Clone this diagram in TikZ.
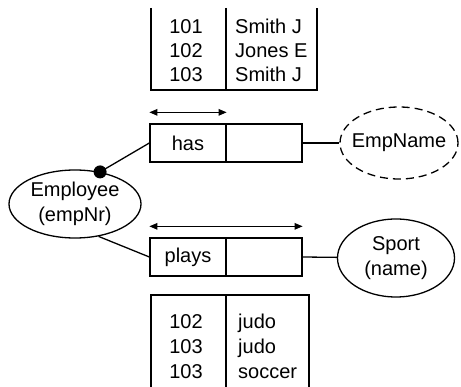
\documentclass[tikz,border=0pt]{standalone}
\usepackage{fontspec}
\setmainfont{Liberation Sans}
\usetikzlibrary{arrows.meta,shapes.geometric}
\begin{document}
\begin{tikzpicture}[x=1pt,y=-1pt,
  every node/.style={font=\fontsize{20}{25}\selectfont},
  line/.style={line width=1.3pt},
  cell/.style={draw,line width=1.3pt,minimum width=76pt,minimum height=38pt,inner sep=0pt},
  ent/.style={draw,ellipse,line width=1.3pt,inner sep=0pt},
  lbl/.style={inner sep=0pt,align=center},
  num/.style={anchor=base,inner sep=0pt},
  nm/.style={anchor=base west,inner sep=0pt},
  dotnode/.style={circle,fill,minimum size=13pt,inner sep=0pt},
  span/.style={line width=1.2pt,{Triangle[length=8pt,width=6.5pt]}-{Triangle[length=8pt,width=6.5pt]}}
]
\useasboundingbox (0,0) rectangle (461,387);
% top table
\draw[line] (151,8) -- (151,90) -- (317,90) -- (317,8);
\draw[line] (226,8) -- (226,90);
\node[num] (t1a) at (186,34) {101}; \node[nm] (t1b) at (235,34) {Smith J};
\node[num] (t2a) at (186,58) {102}; \node[nm] (t2b) at (235,58) {Jones E};
\node[num] (t3a) at (186,82) {103}; \node[nm] (t3b) at (235,82) {Smith J};
% bottom table
\draw[line] (151,389) -- (151,295) -- (309,295) -- (309,389);
\draw[line] (226,295) -- (226,389);
\node[num] (b1a) at (186,329) {102}; \node[nm] (b1b) at (238,329) {judo};
\node[num] (b2a) at (186,354) {103}; \node[nm] (b2b) at (238,354) {judo};
\node[num] (b3a) at (186,379) {103}; \node[nm] (b3b) at (238,379) {soccer};
% fact type boxes
\node[cell] (has) at (188,143) {has};
\node[cell] (hasR) at (264,143) {};
\node[cell] (plays) at (188,257) {plays};
\node[cell] (playsR) at (264,257) {};
% entities
\node[ent, minimum width=132pt, minimum height=68pt] (emp) at (75,204) {};
\node[lbl] at (emp) {Employee\\(empNr)};
\node[ent, dashed, dash pattern=on 8pt off 5pt, minimum width=118pt, minimum height=72pt] (empname) at (399,143) {};
\node[lbl] at (empname) {EmpName};
\node[ent, minimum width=117pt, minimum height=78pt] (sport) at (396,258) {};
\node[lbl] at (sport) {Sport\\(name)};
% connectors
\draw[line] (emp.52) -- (has.west);
\node[dotnode] (dot) at (emp.52) {};
\draw[line] (emp.-54) -- (plays.west);
\draw[line] (hasR.east) -- (empname.west);
\draw[line] (playsR.east) -- (sport);
% uniqueness arrows
\draw[span] ([yshift=11pt]has.north west) -- ([yshift=11pt]has.north east);
\draw[span] ([yshift=11pt]plays.north west) -- ([yshift=11pt]playsR.north east);
\end{tikzpicture}
\end{document}
